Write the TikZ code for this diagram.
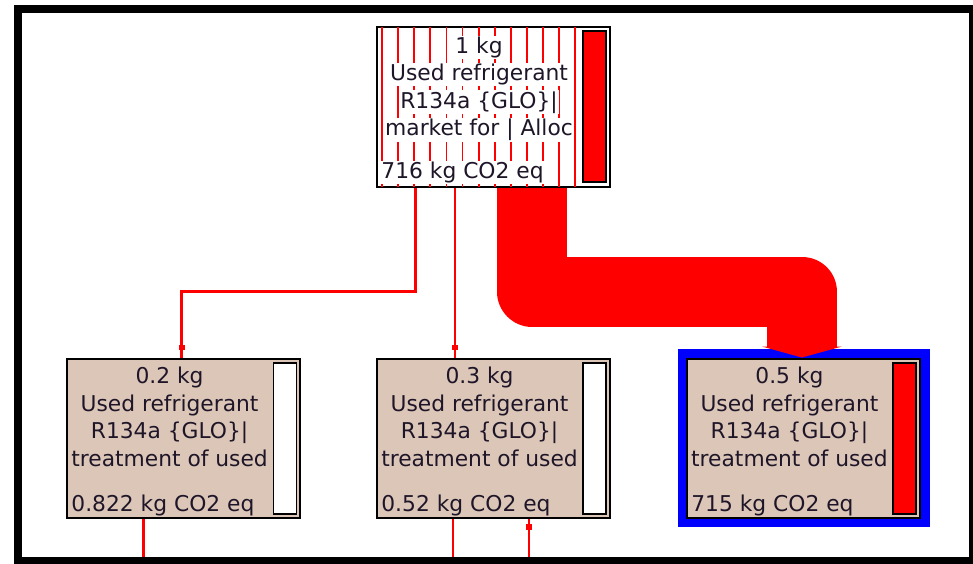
\documentclass[tikz,border=0pt]{standalone}
\usepackage{fontspec}
\setmainfont{DejaVu Sans}
\usepackage{xcolor}
\usetikzlibrary{arrows.meta, positioning, calc, backgrounds}

\definecolor{procfill}{RGB}{220,198,184}
\definecolor{inkdark}{RGB}{30,22,40}
\definecolor{selblue}{RGB}{0,0,255}
\setlength{\fboxsep}{0.6pt}

\begin{document}
\begin{tikzpicture}[
    x=0.02cm, y=-0.02cm,
    node distance=1.5cm,
    every node/.style={font=\fontsize{12.4}{15.6}\selectfont, text=inkdark, inner sep=0pt},
    proc/.style={draw=black, line width=0.04cm, fill=procfill, minimum width=4.66cm, minimum height=3.2cm},
    bar/.style={draw=black, line width=0.03cm, minimum width=0.46cm, minimum height=3.02cm, anchor=east},
    desc/.style={align=center, anchor=base},
    impact/.style={anchor=base west},
    link/.style={draw=red, line width=0.045cm},
    stripe/.style={draw=red, line width=0.035cm},
    flow/.style={draw=red, line width=1.4cm, line join=round, -{Triangle[length=0.22cm, width=1.6cm, line width=0pt]}}
  ]
  \useasboundingbox (0,0) rectangle (973,564);

  % process boxes
  \node[proc] (b2) at (493.5,438.5) {};
  \node[proc, left=of b2] (b1) {};
  \node[proc, right=of b2] (b3) {};
  \node[proc, fill=white, above=3.4cm of b2] (top) {};

  % hatching of the market box
  \foreach \k in {0,...,12}
    \draw[stripe] ($(top.north west)+(6+16.1*\k,1)$) -- ($(top.south west)+(6+16.1*\k,-1)$);

  % score bars
  \node[bar, fill=red] (topbar) at ($(top.east)+(-4,0)$) {};
  \node[bar, fill=white] (b1bar) at ($(b1.east)+(-4,0)$) {};
  \node[bar, fill=white] (b2bar) at ($(b2.east)+(-4,0)$) {};
  \node[bar, fill=red] (b3bar) at ($(b3.east)+(-4,0)$) {};

  % labels (base = last line)
  \node[desc] (toptext) at ($(top.north west)+(103,110)$)
    {\colorbox{white}{1 kg}\\\colorbox{white}{Used refrigerant}\\\colorbox{white}{R134a \{GLO\}|}\\\colorbox{white}{market for | Alloc}};
  \node[impact] (topimp) at ($(top.south west)+(4,-9)$) {\colorbox{white}{716 kg CO2 eq}};
  \node[desc] (b1text) at ($(b1.north west)+(103.5,108.5)$)
    {0.2 kg\\Used refrigerant\\R134a \{GLO\}|\\treatment of used};
  \node[impact] (b1imp) at ($(b1.south west)+(5,-8)$) {0.822 kg CO2 eq};
  \node[desc] (b2text) at ($(b2.north west)+(103.5,108.5)$)
    {0.3 kg\\Used refrigerant\\R134a \{GLO\}|\\treatment of used};
  \node[impact] (b2imp) at ($(b2.south west)+(5,-8)$) {0.52 kg CO2 eq};
  \node[desc] (b3text) at ($(b3.north west)+(103.5,108.5)$)
    {0.5 kg\\Used refrigerant\\R134a \{GLO\}|\\treatment of used};
  \node[impact] (b3imp) at ($(b3.south west)+(5,-8)$) {715 kg CO2 eq};

  % loose ends below the frame edge
  \coordinate (e1) at ($(b1.south)+(-40,45)$);
  \coordinate (e2) at ($(b2.south)+(-40.5,45)$);
  \coordinate (e3) at ($(b2.south)+(35.5,45)$);

  \begin{scope}[on background layer]
    \fill[selblue] ($(b3.north west)+(-8,-9)$) rectangle ($(b3.south east)+(9,8)$);
    \draw[link] ($(top.south)+(-78,0)$) |- ($(b1.north)+(-2,-66)$) -- ($(b1.north)+(-2,0)$);
    \draw[link] ($(top.south)+(-38.5,0)$) -- ($(b2.north)+(-38.5,0)$);
    \draw[flow] ($(top.south)+(38.5,0)$) |- ($(b3.north)+(-1.5,-66)$) -- ($(b3.north)+(-1.5,0)$);
    \draw[link] (e1 |- b1.south) -- (e1);
    \draw[link] (e2 |- b2.south) -- (e2);
    \draw[link] (e3 |- b2.south) -- (e3);
  \end{scope}

  % flow markers
  \fill[red] ($(b1.north)+(-5,-13)$) rectangle +(6,5);
  \fill[red] ($(b2.north)+(-41.5,-13)$) rectangle +(6,5);
  \fill[red] ($(e3 |- b2.south)+(-3,5)$) rectangle +(6,6);

  % frame
  \draw[line width=0.16cm] (18,9) rectangle (973,561);
\end{tikzpicture}
\end{document}
